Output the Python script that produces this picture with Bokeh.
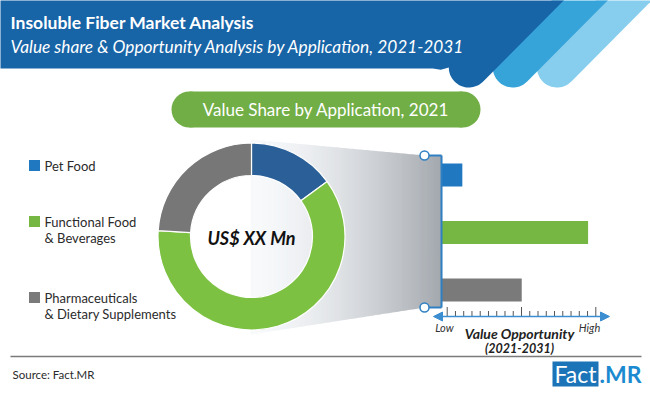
import numpy as np
from bokeh.plotting import figure
from bokeh.models import Range1d, Arrow, NormalHead
from bokeh.core.properties import value
from bokeh.embed import file_html
from bokeh.resources import INLINE

# ---------------- data ----------------
categories = ["Pet Food", "Functional Food & Beverages", "Pharmaceuticals & Dietary Supplements"]
legend_line1 = ["Pet Food", "Functional Food", "Pharmaceuticals"]
legend_line2 = ["", "& Beverages", "& Dietary Supplements"]
value_share_2021 = [15, 61, 24]          # % share of 2021 value
value_opportunity = [13.5, 95, 52]       # relative index, Low = 0 ... High = 100
donut_colors = ["#2a5f97", "#7dc143", "#777777"]
bar_colors = ["#1f78c0", "#76b743", "#7a7a7a"]
axis_labels = ["Low", "High"]
title = "Insoluble Fiber Market Analysis"
subtitle = "Value share & Opportunity Analysis by Application, 2021-2031"
pill_text = "Value Share by Application, 2021"
center_text = "US$ XX Mn"
source_text = "Source: Fact.MR"

# ---------------- layout helpers ----------------
W, H = 650, 393
FONT = value("Lato")


def Y(sy):
    return H - np.asarray(sy, dtype=float)


p = figure(width=W, height=H, x_range=Range1d(0, W), y_range=Range1d(0, H),
           output_backend="svg", toolbar_location=None, x_axis_type=None, y_axis_type=None,
           min_border=0, min_border_left=0, min_border_right=0, min_border_top=0, min_border_bottom=0)
p.grid.visible = False
p.outline_line_color = None
p.background_fill_color = "white"
p.border_fill_color = "white"

# ---------------- header band ----------------
def stripe(cx, cy, r, xr_top, left_to_flat=False):
    n = np.array([1, 1]) / np.sqrt(2)
    if left_to_flat:
        t = np.radians(np.linspace(45, 180, 30))
        arc = [(cx + r * np.cos(a), cy + r * np.sin(a)) for a in t]
        pts = [(-10, -30), (xr_top + 30, -30)] + arc + [(cx - r - 8, cy + 2.2), (cx - r - 16, cy + 1.0), (-10, cy + 1.0)]
    else:
        t = np.radians(np.linspace(45, 225, 36))
        arc = [(cx + r * np.cos(a), cy + r * np.sin(a)) for a in t]
        lx, ly = cx - r * n[0], cy - r * n[1]
        pts = [(xr_top + 30, -30)] + arc + [(lx + ly + 30, -30)]
    xs = [q[0] for q in pts]
    ys = list(Y([q[1] for q in pts]))
    return xs, ys

for (cx, xr, col, flat) in [(556.5, 651, "#86cdee", False), (512.3, 607, "#36a3d9", False), (468.3, 563, "#1764a7", True)]:
    xs, ys = stripe(cx, 67, 20, xr, flat)
    p.patch(xs, ys, fill_color=col, line_color=None)

p.text(x=[10], y=Y([22]), text=[title], text_font=FONT, text_font_style="bold",
       text_font_size="17.5px", text_color="white", text_baseline="middle")
p.text(x=[10], y=Y([46]), text=[subtitle], text_font=FONT, text_font_style="italic",
       text_font_size="17.3px", text_color="white", text_baseline="middle")

# ---------------- green pill ----------------
p.rect(x=[325.5], y=Y([109]), width=273, height=36, fill_color="#71ae45", line_color=None)
p.ellipse(x=[189, 462], y=Y([109, 109]), width=36, height=36, fill_color="#71ae45", line_color=None)
p.text(x=[325.5], y=Y([109]), text=[pill_text], text_font=FONT, text_font_size="17px",
       text_color="white", text_align="center", text_baseline="middle")

# ---------------- gradient funnel ----------------
x0, x1 = 250.0, 441.0
edges = np.linspace(x0, x1, 97)
c0 = np.array([248, 250, 252])
c1 = np.array([163, 168, 174])


def top_edge(x):
    return np.where(x < 424, 139 + (x - 250) * (155 - 139) / (424 - 250), 155)


def bot_edge(x):
    return np.where(x < 424, 334 + (x - 250) * (307 - 334) / (424 - 250), 307)

gx, gy, gc = [], [], []
for a, b in zip(edges[:-1], edges[1:]):
    t = ((a + b) / 2 - x0) / (x1 - x0)
    c = c0 + (c1 - c0) * t ** 1.6
    gx.append([a, b + 0.6, b + 0.6, a])
    gy.append(list(Y([top_edge(a), top_edge(b), bot_edge(b), bot_edge(a)])))
    gc.append("#%02x%02x%02x" % tuple(int(v) for v in c))
p.patches(gx, gy, fill_color=gc, line_color=None)

# ---------------- donut ----------------
total = float(sum(value_share_2021))
cum = np.cumsum([0] + value_share_2021) / total
starts = [np.pi / 2 - 2 * np.pi * c for c in cum[:-1]]
ends = [np.pi / 2 - 2 * np.pi * c for c in cum[1:]]
p.annular_wedge(x=251, y=float(Y(236)), inner_radius=61, outer_radius=93.5,
                start_angle=starts, end_angle=ends, direction="clock",
                fill_color=donut_colors, line_color="white", line_width=1.2)
p.text(x=[251], y=Y([237]), text=[center_text], text_font=FONT, text_font_style="bold italic",
       text_font_size="18px", text_color="#111111", text_align="center", text_baseline="middle")

# ---------------- legend ----------------
leg_sy = [165, 221, 297]
p.rect(x=[34] * 3, y=Y(leg_sy), width=11, height=11, fill_color=bar_colors, line_color=None)
p.text(x=[44] * 3, y=Y(leg_sy), text=legend_line1, text_font=FONT, text_font_size="13px",
       text_color="#2b2b2b", text_baseline="middle")
p.text(x=[44] * 3, y=Y(np.array(leg_sy) + 16.5), text=legend_line2, text_font=FONT,
       text_font_size="13px", text_color="#2b2b2b", text_baseline="middle")

# ---------------- bars (value opportunity) ----------------
# opportunity index 0 sits on the bracket line, 100 on the "High" tick;
# category index i is centred at screen row 174.5 + 57.5 * i
k = (595.3 - 441.0) / 100.0
p.extra_x_ranges = {"opp": Range1d((0 - 441.0) / k, (W - 441.0) / k)}
p.extra_y_ranges = {"cat": Range1d((H - 174.5) / 57.5, (0 - 174.5) / 57.5)}
idx = list(range(len(categories)))
p.hbar(y=idx, left=0, right=value_opportunity, height=0.4, fill_color=bar_colors,
       line_color=None, x_range_name="opp", y_range_name="cat")

# bracket
BR = "#2f80c3"
p.segment(x0=[441, 424, 424], y0=Y([155, 155, 307]), x1=[441, 441, 441], y1=Y([307, 155, 307]),
          line_color=BR, line_width=2)
p.scatter(x=[424, 424], y=Y([155, 307]), size=9, fill_color="white", line_color=BR, line_width=1.5)

# opportunity axis
AX = "#3d8ed0"
p.add_layout(Arrow(x_start=433, y_start=float(Y(316)), x_end=609, y_end=float(Y(316)),
                   line_color=AX, line_width=1.5,
                   start=NormalHead(size=9, fill_color=AX, line_color=AX),
                   end=NormalHead(size=9, fill_color=AX, line_color=AX)))
tick_vals = np.linspace((446.7 - 441.0) / k, 100, 19)
tall = [i in (0, 9, 18) for i in range(19)]
tick_top = [float(Y(306.5)) if t else float(Y(310.5)) for t in tall]
p.segment(x0=tick_vals, y0=[float(Y(315.5))] * 19, x1=tick_vals, y1=tick_top,
          line_color="#555555", line_width=1, x_range_name="opp")
p.text(x=[444, 589], y=Y([327, 327]), text=axis_labels, text_font=FONT, text_font_style="italic",
       text_font_size="11px", text_color="#333333", text_align="center", text_baseline="middle")
p.text(x=[519, 519], y=Y([333, 348]), text=["Value Opportunity", "(2021-2031)"], text_font=FONT,
       text_font_style="bold italic", text_font_size=["14px", "12.5px"], text_color="#222222",
       text_align="center", text_baseline="middle")

# ---------------- footer ----------------
p.segment(x0=[10], y0=Y([356]), x1=[641], y1=Y([356]), line_color="#7a7a7a", line_width=1.5)
p.text(x=[12], y=Y([374]), text=[source_text], text_font=FONT, text_font_size="11.5px",
       text_color="#2b2b2b", text_baseline="middle")
p.quad(left=[552], right=[598], top=Y([361]), bottom=Y([386]), fill_color="#1b74b8", line_color=None)
p.text(x=[575], y=Y([373.5]), text=["Fact"], text_font=FONT, text_font_size="23px",
       text_color="white", text_align="center", text_baseline="middle")
p.text(x=[599], y=Y([373.5]), text=[".MR"], text_font=FONT, text_font_style="bold",
       text_font_size="23px", text_color="#1c8ad0", text_baseline="middle")

open("out.html", "w").write(file_html(p, INLINE))
